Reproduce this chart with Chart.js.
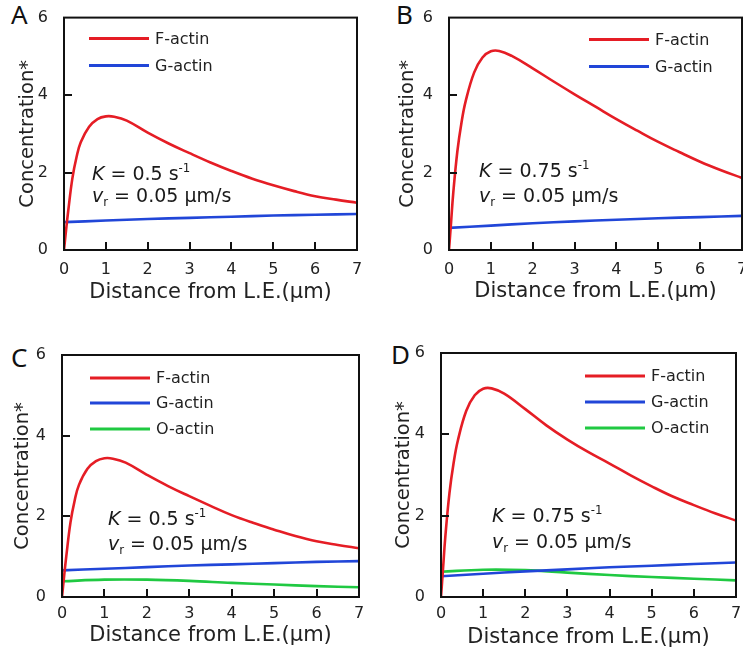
<!DOCTYPE html>
<html>
<head>
<meta charset="utf-8">
<script src="https://cdn.jsdelivr.net/npm/chart.js@4/dist/chart.umd.min.js"></script>
<style>
  html, body { margin: 0; padding: 0; background: #fff; }
  body { width: 743px; height: 660px; overflow: hidden; position: relative; }
  canvas { position: absolute; }
  .tag { position: absolute; font-family: "Noto Sans", sans-serif; font-size: 26px; color: #111; line-height: 1; }
</style>
</head>
<body>
<div class="tag" style="left:11px; top:1px;">A</div>
<div class="tag" style="left:396px; top:1px;">B</div>
<div class="tag" style="left:11px; top:344px;">C</div>
<div class="tag" style="left:391px; top:341px;">D</div>
<canvas id="chartA" width="372" height="320" style="left:0; top:0;"></canvas>
<canvas id="chartB" width="400" height="320" style="left:372px; top:0;"></canvas>
<canvas id="chartC" width="372" height="340" style="left:0; top:320px;"></canvas>
<canvas id="chartD" width="371" height="340" style="left:372px; top:320px;"></canvas>
<script>
// distance from leading edge (um)
const distF = [0, 0.05, 0.1, 0.2, 0.3, 0.4, 0.6, 0.8, 1.0, 1.2, 1.5, 2, 2.5, 3, 3.5, 4, 4.5, 5, 5.5, 6, 6.5, 7];
const distGO = [0, 1, 2, 3, 4, 5, 6, 7];

// panel A (K = 0.5)
const fActinA = [0, 0.52, 1.0, 1.85, 2.4, 2.78, 3.18, 3.38, 3.45, 3.44, 3.34, 3.03, 2.75, 2.5, 2.26, 2.04, 1.84, 1.67, 1.52, 1.39, 1.3, 1.22];
const gActinA = [0.72, 0.76, 0.8, 0.83, 0.86, 0.89, 0.91, 0.93];
// panel B (K = 0.75)
const fActinB = [0, 0.72, 1.45, 2.55, 3.3, 3.85, 4.58, 4.97, 5.13, 5.14, 5.01, 4.69, 4.35, 4.02, 3.7, 3.38, 3.08, 2.79, 2.53, 2.28, 2.06, 1.86];
const gActinB = [0.57, 0.63, 0.69, 0.74, 0.78, 0.82, 0.85, 0.88];
// panel C (K = 0.5, with O-actin)
const fActinC = [0, 0.52, 1.0, 1.85, 2.4, 2.78, 3.18, 3.37, 3.44, 3.43, 3.33, 3.03, 2.75, 2.5, 2.26, 2.03, 1.84, 1.67, 1.51, 1.38, 1.29, 1.21];
const gActinC = [0.66, 0.7, 0.74, 0.78, 0.81, 0.84, 0.87, 0.89];
const oActinC = [0.39, 0.43, 0.43, 0.4, 0.35, 0.31, 0.27, 0.24];
// panel D (K = 0.75, with O-actin)
const fActinD = [0, 0.72, 1.45, 2.55, 3.3, 3.85, 4.58, 4.96, 5.12, 5.13, 5.0, 4.62, 4.22, 3.87, 3.56, 3.28, 2.99, 2.72, 2.47, 2.26, 2.06, 1.88];
const gActinD = [0.51, 0.57, 0.63, 0.68, 0.73, 0.77, 0.81, 0.85];
const oActinD = [0.62, 0.67, 0.66, 0.6, 0.54, 0.49, 0.45, 0.41];

const kValues = ['0.5', '0.75', '0.5', '0.75'];
const vrValue = '0.05';
const xTicks = [0, 1, 2, 3, 4, 5, 6, 7];
const yTicks = [0, 2, 4, 6];

const RED = '#e51d25';
const BLUE = '#2146d8';
const GREEN = '#20c942';
const FONT = '"DejaVu Sans", sans-serif';

function pts(xs, ys) {
    return ys.map((y, i) => ({ x: xs[i], y: y }));
}

function line(label, xs, ys, color) {
    return {
        label: label,
        data: pts(xs, ys),
        borderColor: color,
        backgroundColor: color,
        borderWidth: 2.6,
        pointRadius: 0,
        tension: 0.4,
        fill: false
    };
}

// draws a line of mixed italic / super / sub text
function richText(ctx, x, y, parts, size) {
    parts.forEach(p => {
        let fs = p.sup || p.sub ? size * 0.62 : size;
        ctx.font = (p.it ? 'italic ' : '') + fs + 'px ' + FONT;
        let dy = p.sup ? -size * 0.42 : (p.sub ? size * 0.22 : 0);
        ctx.fillText(p.t, x, y + dy);
        x += ctx.measureText(p.t).width;
    });
}

const framePlugin = {
    id: 'frame',
    afterDraw(chart) {
        const ctx = chart.ctx;
        const a = chart.chartArea;
        const o = chart.options.plugins.frame;
        const xs = chart.scales.x, ys = chart.scales.y;
        ctx.save();
        ctx.strokeStyle = '#111';
        ctx.lineWidth = 2;
        ctx.strokeRect(a.left, a.top, a.right - a.left, a.bottom - a.top);
        // inward tick marks
        ctx.fillStyle = '#111';
        for (let i = 1; i < xTicks.length - 1; i++) {
            let px = Math.round(xs.getPixelForValue(xTicks[i]));
            ctx.fillRect(px - 1, a.bottom - 8, 2, 8);
        }
        for (let i = 1; i < yTicks.length - 1; i++) {
            let py = Math.round(ys.getPixelForValue(yTicks[i]));
            ctx.fillRect(a.left, py - 1, 8, 2);
        }

        // legend
        ctx.font = '16px ' + FONT;
        ctx.textBaseline = 'middle';
        ctx.fillStyle = '#222';
        chart.data.datasets.forEach((ds, i) => {
            let lx = a.left + o.legendX;
            let ly = a.top + o.legendY[i];
            ctx.strokeStyle = ds.borderColor;
            ctx.lineWidth = 3;
            ctx.beginPath();
            ctx.moveTo(lx, ly);
            ctx.lineTo(lx + 60, ly);
            ctx.stroke();
            ctx.fillText(ds.label, lx + 66, ly + 1);
        });

        // parameter note
        ctx.textBaseline = 'alphabetic';
        ctx.fillStyle = '#1a1a1a';
        let nx = a.left + o.noteX;
        richText(ctx, nx, a.top + o.noteY[0], [
            { t: 'K', it: true }, { t: ' = ' + o.k + ' s' }, { t: '-1', sup: true }
        ], 19);
        richText(ctx, nx, a.top + o.noteY[1], [
            { t: 'v', it: true }, { t: 'r', sub: true }, { t: ' = ' + vrValue + ' \u00b5m/s' }
        ], 19);
        ctx.restore();
    }
};

function makeChart(id, cfg) {
    const canvas = document.getElementById(id);
    const W = canvas.width, H = canvas.height;
    const yW = 60, xH = 60;
    return new Chart(canvas, {
        type: 'line',
        data: { datasets: cfg.datasets },
        plugins: [framePlugin],
        options: {
            responsive: false,
            animation: false,
            devicePixelRatio: 1,
            events: [],
            layout: {
                padding: {
                    left: cfg.box[0] - yW,
                    top: cfg.box[1],
                    right: W - cfg.box[2],
                    bottom: H - cfg.box[3] - xH
                }
            },
            plugins: {
                legend: { display: false },
                tooltip: { enabled: false },
                frame: cfg.frame
            },
            scales: {
                x: {
                    type: 'linear',
                    min: 0,
                    max: 7,
                    grid: { display: false },
                    border: { display: false },
                    afterFit: s => { s.height = xH; },
                    afterBuildTicks: s => { s.ticks = xTicks.map(v => ({ value: v })); },
                    ticks: { color: '#222', padding: cfg.xPad, font: { family: FONT, size: 16 }, maxRotation: 0 },
                    title: {
                        display: true,
                        text: 'Distance from L.E.(\u00b5m)',
                        color: '#222',
                        font: { family: FONT, size: 21, lineHeight: 1 },
                        padding: { top: 0, bottom: 49.5 - cfg.xTitle }
                    }
                },
                y: {
                    min: 0,
                    max: 6,
                    grid: { display: false },
                    border: { display: false },
                    afterFit: s => { s.width = yW; },
                    afterBuildTicks: s => { s.ticks = yTicks.map(v => ({ value: v })); },
                    ticks: { color: '#222', padding: 8, font: { family: FONT, size: 16 } },
                    title: {
                        display: true,
                        text: 'Concentration*',
                        color: '#222',
                        font: { family: FONT, size: 19.5, lineHeight: 1 },
                        padding: { top: 50.25 - cfg.yTitle, bottom: 0 }
                    }
                }
            }
        }
    });
}

makeChart('chartA', {
    box: [64, 14, 357, 250], xTitle: 43, yTitle: 36, xPad: 2,
    frame: { legendX: 25, legendY: [21, 48], noteX: 28, noteY: [162, 184], k: kValues[0] },
    datasets: [line('F-actin', distF, fActinA, RED), line('G-actin', distGO, gActinA, BLUE)]
});
makeChart('chartB', {
    box: [77, 13, 370, 250], xTitle: 42, yTitle: 41, xPad: 2,
    frame: { legendX: 140, legendY: [22, 49], noteX: 30, noteY: [159, 184], k: kValues[1] },
    datasets: [line('F-actin', distF, fActinB, RED), line('G-actin', distGO, gActinB, BLUE)]
});
makeChart('chartC', {
    box: [62, 35, 359, 277], xTitle: 39, yTitle: 39, xPad: -1,
    frame: { legendX: 28, legendY: [23, 48, 74], noteX: 46, noteY: [170, 195], k: kValues[2] },
    datasets: [line('F-actin', distF, fActinC, RED), line('G-actin', distGO, gActinC, BLUE), line('O-actin', distGO, oActinC, GREEN)]
});
makeChart('chartD', {
    box: [69, 33, 364, 277], xTitle: 40.5, yTitle: 37, xPad: -1,
    frame: { legendX: 144, legendY: [23, 49, 75], noteX: 51, noteY: [169, 195], k: kValues[3] },
    datasets: [line('F-actin', distF, fActinD, RED), line('G-actin', distGO, gActinD, BLUE), line('O-actin', distGO, oActinD, GREEN)]
});
</script>
</body>
</html>
